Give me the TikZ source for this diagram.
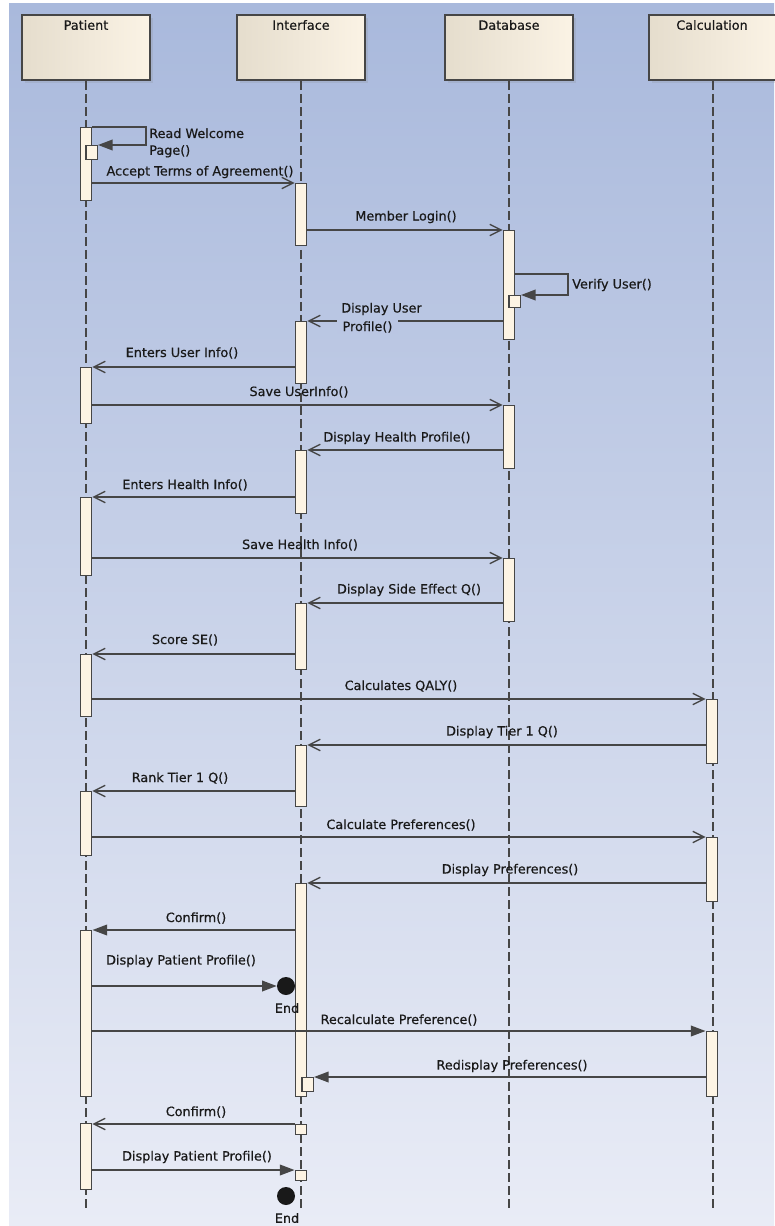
\documentclass[tikz,border=0pt]{standalone}
\usepackage{fontspec}
\setmainfont{DejaVu Sans}
\newfontfamily\diagfont{DejaVu Sans}[FakeBold=0.5]
\usetikzlibrary{arrows.meta,shadows}

\definecolor{bgtop}{RGB}{169,185,220}
\definecolor{bgbot}{RGB}{233,236,246}
\definecolor{bgmid}{RGB}{186,198,227}
\definecolor{headL}{RGB}{229,221,205}
\definecolor{headR}{RGB}{251,243,229}
\definecolor{barfill}{RGB}{253,244,228}
\definecolor{edge}{RGB}{70,70,70}
\definecolor{ink}{RGB}{25,25,25}

\tikzset{
  lbl/.style={font=\diagfont\fontsize{9.6}{12.6}\selectfont, text=ink, inner sep=0pt},
  head/.style={draw=edge, line width=1.5pt, left color=headL, right color=headR,
    minimum width=96pt, minimum height=48.75pt, inner sep=0pt, anchor=north,
    drop shadow={shadow xshift=2.2pt, shadow yshift=-2.2pt, opacity=0.18}},
  lifeline/.style={draw=edge, line width=1.1pt, dash pattern=on 6.75pt off 3pt},
  actbar/.style={draw=edge, fill=barfill, line width=1.1pt, minimum width=8.6pt,
    minimum height=#1*0.75pt, inner sep=0pt, anchor=north},
  nestbox/.style={draw=edge, fill=barfill, line width=1.1pt, minimum width=8.6pt,
    minimum height=#1*0.75pt, inner sep=0pt, anchor=north},
  msg/.style={draw=edge, line width=1.2pt},
  call/.style={msg, -{Triangle[length=11pt,width=8pt]}},
  reply/.style={msg, -{Straight Barb[length=8.5pt,width=8.5pt,line width=1pt]}},
  endpt/.style={circle, fill=ink, minimum size=13.5pt, inner sep=0pt},
}

\begin{document}
\begin{tikzpicture}[x=0.75pt,y=-0.75pt]
\useasboundingbox (0,0) rectangle (774,1226);
\fill[white] (0,0) rectangle (774,1226);
\shade[top color=bgtop, bottom color=bgbot] (9,4) rectangle (774,1226);

% lifeline heads
\node[head] (patient) at (86,14) {};
\node[head] (interface) at (301,14) {};
\node[head] (database) at (509,14) {};
\node[head] (calc) at (713,14) {};
\node[lbl] (patientT) at (86,25) {Patient};
\node[lbl] (interfaceT) at (301,25) {Interface};
\node[lbl] (databaseT) at (509,25) {Database};
\node[lbl] (calcT) at (712,25) {Calculation};

% lifelines
\coordinate (pEnd) at (86,1208);
\coordinate (iEnd) at (301,1208);
\coordinate (dEnd) at (509,1208);
\coordinate (cEnd) at (713,1208);
\draw[lifeline] (patient.south) -- (pEnd);
\draw[lifeline] (interface.south) -- (iEnd);
\draw[lifeline] (database.south) -- (dEnd);
\draw[lifeline] (calc.south) -- (cEnd);

% activation bars: Patient
\node[actbar=73] (pb1) at (86,127) {};
\node[actbar=56] (pb2) at (86,367) {};
\node[actbar=78] (pb3) at (86,497) {};
\node[actbar=62] (pb4) at (86,654) {};
\node[actbar=64] (pb5) at (86,791) {};
\node[actbar=166] (pb6) at (86,930) {};
\node[actbar=66] (pb7) at (86,1123) {};
% Interface
\node[actbar=62] (ib1) at (301,183) {};
\node[actbar=62] (ib2) at (301,321) {};
\node[actbar=63] (ib3) at (301,450) {};
\node[actbar=66] (ib4) at (301,603) {};
\node[actbar=61] (ib5) at (301,745) {};
\node[actbar=213] (ib6) at (301,883) {};
% Database
\node[actbar=109] (db1) at (509,230) {};
\node[actbar=63] (db2) at (509,405) {};
\node[actbar=63] (db3) at (509,558) {};
% Calculation
\node[actbar=64] (cb1) at (712,699) {};
\node[actbar=64] (cb2) at (712,837) {};
\node[actbar=65] (cb3) at (712,1031) {};

% nested activations
\node[nestbox=14] (pn1) at (91.5,145) {};
\node[nestbox=12] (dn1) at (514.5,295) {};
\node[nestbox=14] (in1) at (307.5,1077) {};
\node[nestbox=10] (in2) at (301,1124) {};
\node[nestbox=10] (in3) at (301,1170) {};

% end points
\node[endpt] (end1) at (286,986) {};
\node[endpt] (end2) at (286,1196) {};
\node[lbl] (end1T) at (287,1008) {End};
\node[lbl] (end2T) at (287,1218) {End};

% messages
\coordinate (rwCorner) at (146,127);
\draw[call] (pb1.north east) -- (rwCorner) |- (pn1.north east);
\node[lbl, anchor=north west, align=left] (rwT) at (149,128) {Read Welcome\\Page()};

\draw[reply] (pb1.east |- ib1.north) -- (ib1.north west);
\node[lbl] (m2T) at (200,172) {Accept Terms of Agreement()};

\draw[reply] (ib1.east |- db1.north) -- (db1.north west);
\node[lbl] (m3T) at (406,217) {Member Login()};

\coordinate (vuCorner) at (568,274);
\draw[call] (db1.east |- vuCorner) -- (vuCorner) |- (dn1.north east);
\node[lbl, anchor=west] (vuT) at (572,285) {Verify User()};

\draw[reply] (db1.west |- ib2.north) -- (ib2.north east);
\node[lbl, anchor=west] (m5T) at (341,309) {Display User};
\node[lbl, anchor=west, fill=bgmid, inner xsep=4pt, inner ysep=1pt] (m5bT) at (337,327) {Profile()};

\draw[reply] (ib2.west |- pb2.north) -- (pb2.north east);
\node[lbl] (m6T) at (182,353) {Enters User Info()};

\draw[reply] (pb2.east |- db2.north) -- (db2.north west);
\node[lbl] (m7T) at (299,392) {Save UserInfo()};

\draw[reply] (db2.west |- ib3.north) -- (ib3.north east);
\node[lbl] (m8T) at (397,438) {Display Health Profile()};

\draw[reply] (ib3.west |- pb3.north) -- (pb3.north east);
\node[lbl] (m9T) at (185,485) {Enters Health Info()};

\draw[reply] (pb3.east |- db3.north) -- (db3.north west);
\node[lbl] (m10T) at (300,545) {Save Health Info()};

\draw[reply] (db3.west |- ib4.north) -- (ib4.north east);
\node[lbl] (m11T) at (409,590) {Display Side Effect Q()};

\draw[reply] (ib4.west |- pb4.north) -- (pb4.north east);
\node[lbl] (m12T) at (185,640) {Score SE()};

\draw[reply] (pb4.east |- cb1.north) -- (cb1.north west);
\node[lbl] (m13T) at (401,686) {Calculates QALY()};

\draw[reply] (cb1.west |- ib5.north) -- (ib5.north east);
\node[lbl] (m14T) at (502,732) {Display Tier 1 Q()};

\draw[reply] (ib5.west |- pb5.north) -- (pb5.north east);
\node[lbl] (m15T) at (180,778) {Rank Tier 1 Q()};

\draw[reply] (pb5.east |- cb2.north) -- (cb2.north west);
\node[lbl] (m16T) at (401,825) {Calculate Preferences()};

\draw[reply] (cb2.west |- ib6.north) -- (ib6.north east);
\node[lbl] (m17T) at (510,870) {Display Preferences()};

\draw[call] (ib6.west |- pb6.north) -- (pb6.north east);
\node[lbl] (m18T) at (196,918) {Confirm()};

\draw[call] (pb6.east |- end1) -- (end1.west);
\node[lbl] (m19T) at (181,961) {Display Patient Profile()};

\draw[call] (pb6.east |- cb3.north) -- (cb3.north west);
\node[lbl] (m20T) at (399,1020) {Recalculate Preference()};

\draw[call] (cb3.west |- in1.north) -- (in1.north east);
\node[lbl] (m21T) at (512,1066) {Redisplay Preferences()};

\draw[reply] (in2.north west) -- (pb7.east |- in2.north);
\node[lbl] (m22T) at (196,1112) {Confirm()};

\draw[call] (pb7.east |- in3.north) -- (in3.north west);
\node[lbl] (m23T) at (197,1157) {Display Patient Profile()};
\end{tikzpicture}
\end{document}
